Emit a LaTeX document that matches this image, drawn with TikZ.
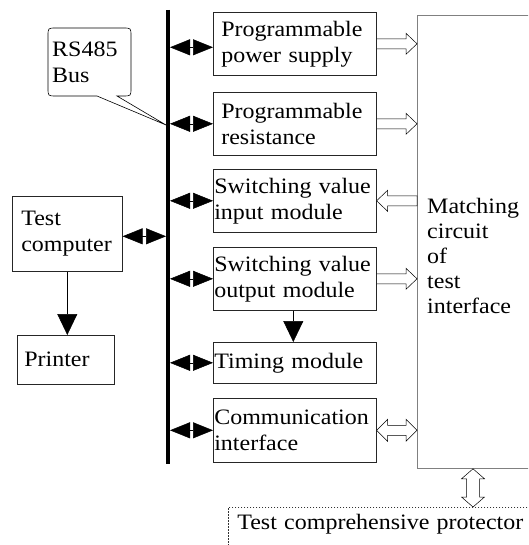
\documentclass[tikz,border=0pt]{standalone}
\usepackage{fontspec}
\setmainfont{Liberation Serif}[FakeStretch=1.09]
\usetikzlibrary{arrows.meta,calc}
% hollow block arrows between two named points (horizontal ones use the y of the first point)
\newcommand\hollowR[2]{\draw[hollow] let \p1=(#1), \p2=(#2) in
  (\x1,\y1+5pt) -- (\x2-11pt,\y1+5pt) -- (\x2-11pt,\y1+10.5pt) -- (\x2,\y1) -- (\x2-11pt,\y1-10.5pt) -- (\x2-11pt,\y1-5pt) -- (\x1,\y1-5pt) -- cycle;}
\newcommand\hollowL[2]{\draw[hollow] let \p1=(#1), \p2=(#2) in
  (\x1,\y1+5pt) -- (\x2+11pt,\y1+5pt) -- (\x2+11pt,\y1+10.5pt) -- (\x2,\y1) -- (\x2+11pt,\y1-10.5pt) -- (\x2+11pt,\y1-5pt) -- (\x1,\y1-5pt) -- cycle;}
\newcommand\hollowLR[2]{\draw[hollow] let \p1=(#1), \p2=(#2) in
  (\x1,\y1) -- (\x1+11pt,\y1+11pt) -- (\x1+11pt,\y1+5pt) -- (\x2-11pt,\y1+5pt) -- (\x2-11pt,\y1+11pt) -- (\x2,\y1) -- (\x2-11pt,\y1-11pt) -- (\x2-11pt,\y1-5pt) -- (\x1+11pt,\y1-5pt) -- (\x1+11pt,\y1-11pt) -- cycle;}
\newcommand\hollowUD[2]{\draw[hollow] let \p1=(#1), \p2=(#2) in
  (\x1,\y1) -- (\x1+11.5pt,\y1-10pt) -- (\x1+6.5pt,\y1-10pt) -- (\x1+6.5pt,\y2+10pt) -- (\x1+11.5pt,\y2+10pt) -- (\x1,\y2) -- (\x1-11.5pt,\y2+10pt) -- (\x1-6.5pt,\y2+10pt) -- (\x1-6.5pt,\y1-10pt) -- (\x1-11.5pt,\y1-10pt) -- cycle;}
\begin{document}
\begin{tikzpicture}[x=1pt,y=-1pt,
  font=\fontsize{22}{26}\selectfont,
  box/.style={draw=black!85, line width=0.6pt, anchor=north west, minimum height=#1, inner ysep=0pt, align=left},
  modbox/.style={box=#1, inner xsep=8pt, text width=147pt},
  tightbox/.style={box=#1, inner xsep=1pt, text width=161pt},
  bidir/.style={line width=0.5pt, {Triangle[length=20pt,width=16pt]}-{Triangle[length=20pt,width=16pt]}},
  downarrow/.style={line width=0.5pt, -{Triangle[length=21pt,width=20pt]}},
  hollow/.style={draw=black, line width=0.5pt, fill=white, line join=miter}
]
\useasboundingbox (0,0) rectangle (528,545);
\clip (0,0) rectangle (528,545);

% bus
\coordinate (bustop) at (168,10);
\coordinate (busbot) at (168,464);
\draw[line width=3.6pt] (bustop) -- (busbot);

% modules
\node[modbox=63pt] (b1) at (213,12) {Programmable\\power supply};
\node[modbox=63pt] (b2) at (213,92) {Programmable\\resistance};
\node[tightbox=63pt] (b3) at (213,169) {\makebox[\linewidth][s]{Switching value}\\input module};
\node[tightbox=63pt] (b4) at (213,247) {\makebox[\linewidth][s]{Switching value}\\output module};
\node[tightbox=41pt] (b5) at (213,342) {Timing module};
\node[tightbox=64pt] (b6) at (213,398) {Communication\\interface};

% test computer and printer
\node[box=75pt, inner xsep=9pt, text width=92pt] (tc) at (12,196) {Test\\computer};
\node[box=49pt, inner xsep=7pt, text width=83pt] (pr) at (17,335) {Printer};

% matching circuit
\node[draw=black!50, line width=0.8pt, anchor=north west, minimum width=150pt, minimum height=453pt, inner sep=0pt] (match) at (417,15) {};
\node[anchor=base west, align=left, inner sep=0pt, font=\fontsize{22}{25}\selectfont] (mtext) at (427,313) {Matching\\circuit\\of\\test\\interface};

% protector
\node[draw=black!80, line width=0.6pt, dash pattern=on 1.5pt off 1.5pt, anchor=north west, text width=312pt, inner xsep=9pt, inner ysep=7pt, text height=15pt, text depth=30pt, align=left] (prot) at (228,507) {Test comprehensive protector};

% callout
\coordinate (tip) at (166,125);
\draw[line width=0.6pt, fill=white] (97,96) -- (56,96) .. controls (48,96) .. (48,88) -- (48,36) .. controls (48,28) .. (56,28) -- (123,28) .. controls (131,28) .. (131,36) -- (131,88) .. controls (131,96) .. (123,96) -- (117,96) -- (tip) -- cycle;
\node[anchor=base west, align=left, inner sep=0pt] (rs) at (52,83) {RS485\\Bus};

% bus connections
\draw[bidir] ([xshift=2pt,yshift=-3.5pt]bustop |- b1.west) -- ([yshift=-3.5pt]b1.west);
\draw[bidir] ([xshift=2pt]bustop |- b2.west) -- (b2.west);
\draw[bidir] ([xshift=2pt]bustop |- b3.west) -- (b3.west);
\draw[bidir] ([xshift=2pt]bustop |- b4.west) -- (b4.west);
\draw[bidir] ([xshift=2pt]bustop |- b5.west) -- (b5.west);
\draw[bidir] ([xshift=2pt]bustop |- b6.west) -- (b6.west);
\draw[bidir] ([yshift=-2.5pt]tc.east) -- ([xshift=-2pt,yshift=-2.5pt]bustop |- tc.east);

% downward arrows
\draw[downarrow] (tc.south) -- (tc.south |- pr.north);
\draw[downarrow] ([xshift=-1.5pt]b4.south) -- ([xshift=-1.5pt]b4.south |- b5.north);

% hollow arrows
\hollowR{b1.east}{match.west}
\hollowR{b2.east}{match.west}
\hollowL{match.west |- b3.east}{b3.east}
\hollowR{b4.east}{match.west}
\hollowLR{b6.east}{match.west}
\coordinate (vx) at (473,0);
\hollowUD{vx |- match.south}{vx |- prot.north}
\end{tikzpicture}
\end{document}
